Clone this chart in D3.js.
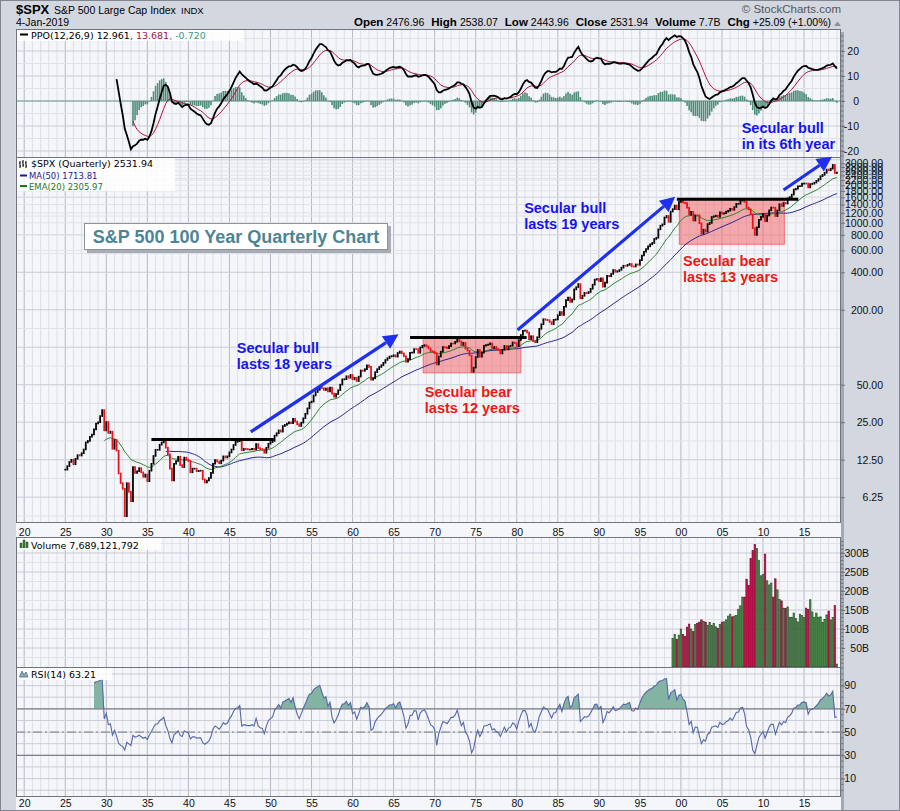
<!DOCTYPE html>
<html>
<head>
<meta charset="utf-8">
<script src="https://cdn.jsdelivr.net/npm/d3@7"></script>
<style>
  body { margin: 0; background: #d3d7e0; }
  svg { display: block; }
</style>
</head>
<body>
<svg></svg>
<script>
const width = 900, height = 811;

// quarterly closes of the S&P 500, one row per year, 1925 Q1 .. 2019 Q1
const firstYear = 1925;
const closes = [
  10.4, 11.1, 12.0, 12.5,      // 1925
  11.5, 12.7, 13.6, 13.5,      // 1926
  14.1, 15.1, 17.2, 17.7,      // 1927
  19.1, 19.9, 21.9, 24.4,      // 1928
  25.0, 28.0, 31.3, 21.5,      // 1929
  25.1, 20.5, 21.0, 15.3,      // 1930
  18.0, 14.8, 9.7, 8.1,        // 1931
  7.3, 4.4, 8.1, 6.9,          // 1932
  5.8, 10.9, 9.8, 10.1,        // 1933
  10.7, 9.9, 9.1, 9.5,         // 1934
  8.4, 10.2, 11.6, 13.4,       // 1935
  15.0, 15.0, 16.5, 17.2,      // 1936
  18.1, 15.6, 13.8, 10.6,      // 1937
  8.5, 11.6, 12.2, 13.2,       // 1938
  11.3, 10.9, 13.0, 12.5,      // 1939
  12.2, 9.9, 10.6, 10.6,       // 1940
  10.1, 10.2, 10.2, 8.7,       // 1941
  8.2, 8.5, 8.9, 9.8,          // 1942
  11.6, 12.4, 12.1, 11.7,      // 1943
  12.3, 13.3, 13.0, 13.3,      // 1944
  14.3, 15.1, 16.4, 17.4,      // 1945
  17.6, 18.4, 14.9, 15.3,      // 1946
  15.2, 15.1, 15.1, 15.3,      // 1947
  15.1, 16.7, 15.5, 15.2,      // 1948
  15.1, 14.2, 15.6, 16.8,      // 1949
  17.3, 17.7, 19.5, 20.4,      // 1950
  21.5, 21.0, 23.3, 23.8,      // 1951
  24.4, 25.0, 24.5, 26.6,      // 1952
  25.3, 24.1, 23.3, 24.8,      // 1953
  26.9, 29.2, 32.3, 36.0,      // 1954
  36.6, 41.0, 43.7, 45.5,      // 1955
  48.5, 46.9, 45.4, 46.7,      // 1956
  44.1, 47.4, 42.4, 40.0,      // 1957
  42.1, 45.2, 50.1, 55.2,      // 1958
  55.4, 58.5, 56.9, 59.9,      // 1959
  55.3, 56.9, 53.5, 58.1,      // 1960
  65.1, 64.6, 66.7, 71.6,      // 1961
  69.6, 54.8, 56.3, 63.1,      // 1962
  66.6, 69.4, 71.7, 75.0,      // 1963
  79.0, 81.7, 84.2, 84.8,      // 1964
  86.2, 84.1, 90.0, 92.4,      // 1965
  89.2, 84.7, 76.6, 80.3,      // 1966
  90.2, 90.6, 96.7, 96.5,      // 1967
  90.2, 99.6, 102.7, 103.9,    // 1968
  101.5, 97.7, 93.1, 92.1,     // 1969
  89.6, 72.7, 84.3, 92.2,      // 1970
  100.3, 99.7, 98.3, 102.1,    // 1971
  107.2, 107.1, 110.6, 118.1,  // 1972
  111.5, 104.3, 108.4, 97.6,   // 1973
  94.0, 86.0, 63.5, 68.6,      // 1974
  83.4, 95.2, 83.9, 90.2,      // 1975
  102.8, 104.3, 105.2, 107.5,  // 1976
  98.4, 100.5, 96.5, 95.1,     // 1977
  89.2, 95.5, 102.5, 96.1,     // 1978
  101.6, 102.9, 109.3, 107.9,  // 1979
  102.1, 114.2, 125.5, 135.8,  // 1980
  136.0, 131.2, 116.2, 122.6,  // 1981
  112.0, 109.6, 120.4, 140.6,  // 1982
  153.0, 168.1, 166.1, 164.9,  // 1983
  159.2, 153.2, 166.1, 167.2,  // 1984
  180.7, 191.9, 182.1, 211.3,  // 1985
  238.9, 250.8, 231.3, 242.2,  // 1986
  291.7, 304.0, 321.8, 247.1,  // 1987
  258.9, 273.5, 271.9, 277.7,  // 1988
  294.9, 318.0, 349.2, 353.4,  // 1989
  339.9, 358.0, 306.1, 330.2,  // 1990
  375.2, 371.2, 387.9, 417.1,  // 1991
  403.7, 408.1, 417.8, 435.7,  // 1992
  451.7, 450.5, 458.9, 466.5,  // 1993
  445.8, 444.3, 462.7, 459.3,  // 1994
  500.7, 544.8, 584.4, 615.9,  // 1995
  645.5, 670.6, 687.3, 740.7,  // 1996
  757.1, 885.1, 947.3, 970.4,  // 1997
  1101.8, 1133.8, 1017.0, 1229.2, // 1998
  1286.4, 1372.7, 1282.7, 1469.3, // 1999
  1498.6, 1454.6, 1436.5, 1320.3, // 2000
  1160.3, 1224.4, 1040.9, 1148.1, // 2001
  1147.4, 989.8, 815.3, 879.8,    // 2002
  848.2, 974.5, 996.0, 1111.9,    // 2003
  1126.2, 1140.8, 1114.6, 1211.9, // 2004
  1180.6, 1191.3, 1228.8, 1248.3, // 2005
  1294.9, 1270.2, 1335.9, 1418.3, // 2006
  1420.9, 1503.4, 1526.8, 1468.4, // 2007
  1322.7, 1280.0, 1166.4, 903.3,  // 2008
  797.9, 919.3, 1057.1, 1115.1,   // 2009
  1169.4, 1030.7, 1141.2, 1257.6, // 2010
  1325.8, 1320.6, 1131.4, 1257.6, // 2011
  1408.5, 1362.2, 1440.7, 1426.2, // 2012
  1569.2, 1606.3, 1681.6, 1848.4, // 2013
  1872.3, 1960.2, 1972.3, 2058.9, // 2014
  2067.9, 2063.1, 1920.0, 2043.9, // 2015
  2059.7, 2098.9, 2168.3, 2238.8, // 2016
  2362.7, 2423.4, 2519.4, 2673.6, // 2017
  2640.9, 2718.4, 2914.0, 2506.9, // 2018
  2531.9                          // 2019
];

// quarterly volume in billions of shares, 1999 Q1 .. 2019 Q1
const volumeStart = 1999;
const volumeB = [
  75, 86, 73, 84, 100, 86, 81, 105, 113, 100,
  94, 112, 115, 118, 124, 120, 118, 110, 117, 109,
  115, 106, 102, 112, 118, 119, 124, 134, 139, 132,
  134, 136, 152, 161, 184, 184, 231, 214, 285, 306,
  322, 312, 281, 240, 243, 297, 227, 216, 221, 184,
  232, 203, 178, 174, 155, 154, 158, 131, 131, 142,
  128, 119, 139, 136, 130, 155, 151, 177, 145, 131,
  142, 131, 132, 117, 125, 137, 147, 124, 130, 162,
  7.7
];

// tick labels
const yearTicks = [1920, 1925, 1930, 1935, 1940, 1945, 1950, 1955, 1960, 1965, 1970,
  1975, 1980, 1985, 1990, 1995, 2000, 2005, 2010, 2015];
const priceTicks = [6.25, 12.5, 25, 50, 200, 400, 600, 800, 1000, 1200, 1400, 1600,
  1800, 2000, 2200, 2400, 2600, 2800, 3000];
const ppoTicks = [-20, -10, 0, 10, 20];
const volumeTicks = [50, 100, 150, 200, 250, 300];
const rsiTicks = [10, 30, 50, 70, 90];

// annotations, in years and index points
const resistance = [
  {from: 1935.5, to: 1950.4, price: 18.2},
  {from: 1967.0, to: 1981.2, price: 119.7},
  {from: 1999.5, to: 2014.3, price: 1541}
];
const bearBoxes = [
  {from: 1968.6, to: 1980.5, high: 119.7, low: 62.3},
  {from: 1999.8, to: 2012.6, high: 1541, low: 671}
];
const trendArrows = [
  {from: [1947.6, 20.9], to: [1965.6, 127]},
  {from: [1980.1, 137.5], to: [1999.3, 1619]},
  {from: [2012.5, 1831], to: [2018.4, 3382]}
];
const notes = [
  {kind: "bull", lines: ["Secular bull", "lasts 18 years"], year: 1945.9, price: 89.8},
  {kind: "bear", lines: ["Secular bear", "lasts 12 years"], year: 1968.8, price: 39.8},
  {kind: "bull", lines: ["Secular bull", "lasts 19 years"], year: 1980.9, price: 1194},
  {kind: "bear", lines: ["Secular bear", "lasts 13 years"], year: 2000.25, price: 448},
  {kind: "bull", lines: ["Secular bull", "in its 6th year"], year: 2007.4, price: 5220}
];

const svg = d3.select("svg")
  .attr("width", width)
  .attr("height", height);

const plotLeft = 16, plotRight = 841;
const panels = {
  ppo: {top: 29, bottom: 157},
  price: {top: 157, bottom: 522},
  vol: {top: 537, bottom: 667},
  rsi: {top: 667, bottom: 796}
};
const arial = "'Liberation Sans', Arial, sans-serif";
const verdana = "'DejaVu Sans', Verdana, sans-serif";

// scales
const x = d3.scaleLinear().domain([1919, 2019.5]).range([plotLeft, plotRight]);
const yPrice = d3.scaleLog().domain([3.95, 3371]).range([panels.price.bottom, panels.price.top]);
const yPpo = d3.scaleLinear().domain([-22.4, 28.8]).range([panels.ppo.bottom, panels.ppo.top]);
const yVol = d3.scaleLinear().domain([0, 342]).range([panels.vol.bottom, panels.vol.top]);
const yRsi = d3.scaleLinear().domain([-5, 106]).range([panels.rsi.bottom, panels.rsi.top]);

// indicators computed from the closes
const dates = closes.map((c, i) => firstYear + i / 4);
function sma(arr, n) {
  return arr.map((v, i) => i < n - 1 ? null : d3.mean(arr.slice(i - n + 1, i + 1)));
}
function ema(arr, n) {
  const k = 2 / (n + 1);
  const start = arr.findIndex(v => v != null);
  let prev = null;
  return arr.map((v, i) => {
    if (v == null || i < start + n - 1) return null;
    prev = prev == null ? d3.mean(arr.slice(i - n + 1, i + 1)) : v * k + prev * (1 - k);
    return prev;
  });
}
function rsiCalc(arr, n) {
  const out = arr.map(() => null);
  let g = 0, l = 0;
  for (let i = 1; i <= n; i++) {
    const ch = arr[i] - arr[i - 1];
    if (ch > 0) g += ch; else l -= ch;
  }
  g /= n; l /= n;
  out[n] = l === 0 ? 100 : 100 - 100 / (1 + g / l);
  for (let i = n + 1; i < arr.length; i++) {
    const ch = arr[i] - arr[i - 1];
    g = (g * (n - 1) + Math.max(ch, 0)) / n;
    l = (l * (n - 1) + Math.max(-ch, 0)) / n;
    out[i] = l === 0 ? 100 : 100 - 100 / (1 + g / l);
  }
  return out;
}
const ma50 = sma(closes, 50);
const ema20 = ema(closes, 20);
const ema12 = ema(closes, 12);
const ema26 = ema(closes, 26);
const ppo = closes.map((c, i) => ema26[i] == null ? null : (ema12[i] - ema26[i]) / ema26[i] * 100);
const signal = ema(ppo, 9);
const hist = ppo.map((v, i) => signal[i] == null ? null : v - signal[i]);
const rsi = rsiCalc(closes, 14);

// background and frame
svg.append("rect")
  .attr("x", 0.5).attr("y", 0.5)
  .attr("width", width - 1).attr("height", height - 1)
  .attr("fill", "#d3d7e0")
  .attr("stroke", "#80858f");

// drop shadow behind the chart area
svg.append("rect")
  .attr("x", plotLeft + 3).attr("y", panels.ppo.top + 3)
  .attr("width", plotRight - plotLeft).attr("height", 810 - panels.ppo.top - 3)
  .attr("fill", "#a3a8b3");

svg.append("rect")
  .attr("x", plotLeft).attr("y", panels.ppo.top)
  .attr("width", plotRight - plotLeft).attr("height", 810 - panels.ppo.top)
  .attr("fill", "#f5f6fa");

const defs = svg.append("defs");
Object.entries(panels).forEach(([key, p]) => {
  defs.append("clipPath").attr("id", "clip-" + key)
    .append("rect")
    .attr("x", plotLeft).attr("y", p.top)
    .attr("width", plotRight - plotLeft).attr("height", p.bottom - p.top);
});

// grid lines for every panel
const years = d3.range(1919, 2020);
function grid(p, yLines) {
  const g = svg.append("g");
  g.selectAll(".vgrid")
    .data(years)
    .enter().append("line")
    .attr("x1", d => x(d)).attr("x2", d => x(d))
    .attr("y1", p.top).attr("y2", p.bottom)
    .attr("stroke", d => d % 5 === 0 ? "#b5b9c3" : "#dcdfe6")
    .attr("stroke-width", 1);
  g.selectAll(".hgrid")
    .data(yLines)
    .enter().append("line")
    .attr("x1", plotLeft).attr("x2", plotRight)
    .attr("y1", d => d.y).attr("y2", d => d.y)
    .attr("stroke", d => d.major ? "#c9ccd5" : "#e0e2e8")
    .attr("stroke-width", 1);
}
grid(panels.ppo, d3.range(-20, 30, 5).map(v => ({y: yPpo(v), major: v % 10 === 0})));
const priceGrid = [];
for (let k = -1; k <= 9; k++) {
  priceGrid.push({y: yPrice(6.25 * Math.pow(2, k)), major: true});
  priceGrid.push({y: yPrice(6.25 * Math.pow(2, k + 0.5)), major: false});
}
priceTicks.filter(v => v > 400).forEach(v => priceGrid.push({y: yPrice(v), major: false}));
grid(panels.price, priceGrid.filter(d => d.y > panels.price.top && d.y < panels.price.bottom));
grid(panels.vol, d3.range(25, 350, 25).map(v => ({y: yVol(v), major: v % 50 === 0})));
grid(panels.rsi, d3.range(0, 110, 10).map(v => ({y: yRsi(v), major: true})));

// panel borders
Object.values(panels).forEach(p => {
  svg.append("rect")
    .attr("x", plotLeft + 0.5).attr("y", p.top + 0.5)
    .attr("width", plotRight - plotLeft - 1).attr("height", p.bottom - p.top)
    .attr("fill", "none")
    .attr("stroke", "#6f747e");
});

// ---------- PPO panel ----------
const ppoG = svg.append("g").attr("clip-path", "url(#clip-ppo)");
ppoG.selectAll(".hist")
  .data(hist.map((v, i) => ({t: dates[i], v})).filter(d => d.v != null))
  .enter().append("rect")
  .attr("x", d => x(d.t) - 0.8)
  .attr("width", 1.6)
  .attr("y", d => Math.min(yPpo(d.v), yPpo(0)))
  .attr("height", d => Math.max(0.6, Math.abs(yPpo(d.v) - yPpo(0))))
  .attr("fill", "#4f8d78");
ppoG.append("line")
  .attr("x1", plotLeft).attr("x2", plotRight)
  .attr("y1", yPpo(0)).attr("y2", yPpo(0))
  .attr("stroke", "#4f8d78").attr("stroke-width", 0.8);

const ppoLine = d3.line()
  .defined(d => d.v != null)
  .x(d => x(d.t))
  .y(d => yPpo(d.v));
ppoG.append("path")
  .attr("d", ppoLine(signal.map((v, i) => ({t: dates[i], v}))))
  .attr("fill", "none").attr("stroke", "#b0123e").attr("stroke-width", 1);
ppoG.append("path")
  .attr("d", ppoLine(ppo.map((v, i) => ({t: dates[i], v}))))
  .attr("fill", "none").attr("stroke", "#000").attr("stroke-width", 1.8);

// ---------- price panel ----------
const priceG = svg.append("g").attr("clip-path", "url(#clip-price)");

// bear market boxes
priceG.selectAll(".bear")
  .data(bearBoxes)
  .enter().append("rect")
  .attr("x", d => x(d.from))
  .attr("y", d => yPrice(d.high))
  .attr("width", d => x(d.to) - x(d.from))
  .attr("height", d => yPrice(d.low) - yPrice(d.high))
  .attr("fill", "rgba(242, 92, 92, 0.5)")
  .attr("stroke", "rgba(240, 90, 90, 0.8)");

const avgLine = d3.line()
  .defined(d => d.v != null)
  .x(d => x(d.t))
  .y(d => yPrice(d.v));
priceG.append("path")
  .attr("d", avgLine(ma50.map((v, i) => ({t: dates[i], v}))))
  .attr("fill", "none").attr("stroke", "#24248f").attr("stroke-width", 1);
priceG.append("path")
  .attr("d", avgLine(ema20.map((v, i) => ({t: dates[i], v}))))
  .attr("fill", "none").attr("stroke", "#2a842a").attr("stroke-width", 1);

// quarterly bars, open at the previous close
const bars = closes.map((c, i) => {
  const o = i > 0 ? closes[i - 1] : c;
  return {t: dates[i], open: o, close: c};
});
priceG.selectAll(".bar")
  .data(bars)
  .enter().append("line")
  .attr("x1", d => x(d.t)).attr("x2", d => x(d.t))
  .attr("y1", d => yPrice(Math.max(d.open, d.close)) - 0.8)
  .attr("y2", d => yPrice(Math.min(d.open, d.close)) + 0.8)
  .attr("stroke", d => d.close >= d.open ? "#000" : "#e8121a")
  .attr("stroke-width", 1.8);

// resistance lines
priceG.selectAll(".resist")
  .data(resistance)
  .enter().append("line")
  .attr("x1", d => x(d.from)).attr("x2", d => x(d.to))
  .attr("y1", d => yPrice(d.price)).attr("y2", d => yPrice(d.price))
  .attr("stroke", "#000").attr("stroke-width", 3);

// trend arrows
const arrowG = svg.append("g");
trendArrows.forEach(a => {
  const x0 = x(a.from[0]), y0 = yPrice(a.from[1]);
  const x1 = x(a.to[0]), y1 = yPrice(a.to[1]);
  const ang = Math.atan2(y1 - y0, x1 - x0);
  const headLen = 15, headW = 7.5;
  const bx = x1 - headLen * Math.cos(ang), by = y1 - headLen * Math.sin(ang);
  arrowG.append("line")
    .attr("x1", x0).attr("y1", y0)
    .attr("x2", bx).attr("y2", by)
    .attr("stroke", "#1f2ff0").attr("stroke-width", 3.2);
  const px = -Math.sin(ang), py = Math.cos(ang);
  arrowG.append("path")
    .attr("d", `M${x1},${y1}L${bx + px * headW},${by + py * headW}L${bx - px * headW},${by - py * headW}Z`)
    .attr("fill", "#1f2ff0");
});

// notes
notes.forEach(n => {
  const t = svg.append("text")
    .attr("x", x(n.year))
    .attr("y", yPrice(n.price))
    .attr("font-family", arial)
    .attr("font-weight", "bold")
    .attr("font-size", "14.5px")
    .attr("fill", n.kind === "bull" ? "#1414f0" : "#f01616");
  n.lines.forEach((line, i) => {
    t.append("tspan")
      .attr("x", x(n.year))
      .attr("dy", i === 0 ? 0 : 16)
      .text(line);
  });
});

// chart title box
svg.append("rect")
  .attr("x", 87).attr("y", 226)
  .attr("width", 304).attr("height", 27)
  .attr("fill", "#a8acb5");
svg.append("rect")
  .attr("x", 84.5).attr("y", 223.5)
  .attr("width", 303).attr("height", 26)
  .attr("fill", "#fff")
  .attr("stroke", "#8e929b");
svg.append("text")
  .attr("x", 236).attr("y", 243)
  .attr("text-anchor", "middle")
  .attr("font-family", arial)
  .attr("font-weight", "bold")
  .attr("font-size", "18px")
  .attr("fill", "#4b8595")
  .text("S&P 500 100 Year Quarterly Chart");

// ---------- volume panel ----------
const volIdx0 = (volumeStart - firstYear) * 4;
const volBars = volumeB.map((v, i) => {
  const j = volIdx0 + i;
  return {t: volumeStart + i / 4, v, up: closes[j] >= closes[j - 1]};
});
svg.append("g").attr("clip-path", "url(#clip-vol)")
  .selectAll(".vol")
  .data(volBars)
  .enter().append("rect")
  .attr("x", d => x(d.t) - 0.75)
  .attr("width", 1.5)
  .attr("y", d => yVol(d.v))
  .attr("height", d => yVol(0) - yVol(d.v))
  .attr("fill", d => d.up ? "#4e8a4e" : "#c4124c")
  .attr("stroke", d => d.up ? "#245224" : "#7a0828")
  .attr("stroke-width", 0.6);

// ---------- RSI panel ----------
const rsiG = svg.append("g").attr("clip-path", "url(#clip-rsi)");
const rsiPts = rsi.map((v, i) => ({t: dates[i], v})).filter(d => d.v != null);
rsiG.append("path")
  .attr("d", d3.area()
    .x(d => x(d.t))
    .y0(yRsi(70))
    .y1(d => yRsi(Math.max(d.v, 70)))(rsiPts))
  .attr("fill", "#82b3a3");
[70, 30].forEach(v => {
  rsiG.append("line")
    .attr("x1", plotLeft).attr("x2", plotRight)
    .attr("y1", yRsi(v)).attr("y2", yRsi(v))
    .attr("stroke", "#7a7f88").attr("stroke-width", 1.2);
});
rsiG.append("line")
  .attr("x1", plotLeft).attr("x2", plotRight)
  .attr("y1", yRsi(50)).attr("y2", yRsi(50))
  .attr("stroke", "#8a8f98").attr("stroke-width", 1.2)
  .attr("stroke-dasharray", "9,3,2,3");
rsiG.append("path")
  .attr("d", d3.line().x(d => x(d.t)).y(d => yRsi(d.v))(rsiPts))
  .attr("fill", "none").attr("stroke", "#5867a6").attr("stroke-width", 1.1);

// ---------- axes ----------
function rightAxis(scale, ticks, fmt, labelRight, minor) {
  const g = svg.append("g")
    .attr("transform", `translate(${plotRight}, 0)`)
    .call(d3.axisRight(scale).tickValues(ticks).tickSize(4).tickFormat(fmt));
  g.select(".domain").remove();
  g.selectAll("line").attr("stroke", "#6f747e");
  g.selectAll("text")
    .attr("text-anchor", "end")
    .attr("x", labelRight)
    .attr("font-family", arial)
    .attr("font-size", "10.5px")
    .attr("fill", "#111");
  g.selectAll(".minor")
    .data(minor)
    .enter().append("line")
    .attr("x1", 0).attr("x2", 2.5)
    .attr("y1", d => scale(d)).attr("y2", d => scale(d))
    .attr("stroke", "#6f747e");
}
rightAxis(yPpo, ppoTicks, d => String(d), 18, d3.range(-22, 28, 2));
rightAxis(yPrice, priceTicks, d3.format(".2f"), 42, []);
rightAxis(yVol, volumeTicks, d => d + "B", 28, d3.range(10, 340, 10));
rightAxis(yRsi, rsiTicks, d => String(d), 15, d3.range(0, 106, 5));

function yearAxis(yPos, labelY) {
  const g = svg.append("g")
    .attr("transform", `translate(0, ${yPos})`)
    .call(d3.axisBottom(x).tickValues(yearTicks).tickSize(0).tickFormat(d => String(d).slice(2)));
  g.select(".domain").remove();
  g.selectAll("text")
    .attr("y", labelY)
    .attr("dy", 0)
    .attr("font-family", arial)
    .attr("font-size", "10.5px")
    .attr("fill", "#111");
}
yearAxis(panels.price.bottom, 13.5);
yearAxis(panels.rsi.bottom, 11);

// ---------- header ----------
svg.append("text")
  .attr("x", 16).attr("y", 14)
  .attr("font-family", arial)
  .attr("font-size", "13px")
  .attr("font-weight", "bold")
  .text("$SPX");
svg.append("text")
  .attr("x", 54).attr("y", 14)
  .attr("font-family", arial)
  .attr("font-size", "10.5px")
  .text("S&P 500 Large Cap Index");
svg.append("text")
  .attr("x", 181).attr("y", 14)
  .attr("font-family", arial)
  .attr("font-size", "9.5px")
  .text("INDX");
svg.append("text")
  .attr("x", 16).attr("y", 26)
  .attr("font-family", arial)
  .attr("font-size", "10.5px")
  .text("4-Jan-2019");
svg.append("text")
  .attr("x", 841).attr("y", 13)
  .attr("text-anchor", "end")
  .attr("font-family", arial)
  .attr("font-size", "11.5px")
  .attr("fill", "#555")
  .text("\u00A9 StockCharts.com");

const quote = [["Open", "2476.96"], ["High", "2538.07"], ["Low", "2443.96"],
  ["Close", "2531.94"], ["Volume", "7.7B"], ["Chg", "+25.09 (+1.00%)"]];
const qt = svg.append("text")
  .attr("x", 831).attr("y", 26)
  .attr("text-anchor", "end")
  .attr("font-family", arial);
quote.forEach(([k, v], i) => {
  qt.append("tspan").attr("font-weight", "bold").attr("font-size", "11.5px")
    .attr("dx", i === 0 ? 0 : 7).text(k);
  qt.append("tspan").attr("font-size", "10.5px").attr("dx", 3).text(v);
});
svg.append("path")
  .attr("d", "M834,26L837.5,21.5L841,26Z")
  .attr("fill", "#8a8f99");

// ---------- panel legends ----------
function legendBox(x0, y0, w, h) {
  svg.append("rect")
    .attr("x", x0).attr("y", y0).attr("width", w).attr("height", h)
    .attr("fill", "#fff").attr("opacity", 0.85);
}
legendBox(17, 30, 226, 11);
svg.append("line")
  .attr("x1", 20).attr("x2", 28).attr("y1", 34.5).attr("y2", 34.5)
  .attr("stroke", "#000").attr("stroke-width", 2);
const ppoLeg = svg.append("text")
  .attr("x", 31).attr("y", 38.5)
  .attr("font-family", verdana)
  .attr("font-size", "9.5px");
ppoLeg.append("tspan").attr("fill", "#000").text("PPO(12,26,9) 12.961");
ppoLeg.append("tspan").attr("fill", "#a0143c").text(", 13.681");
ppoLeg.append("tspan").attr("fill", "#3c9a78").text(", -0.720");

legendBox(17, 158, 158, 33);
// small ohlc glyph
svg.append("path")
  .attr("d", "M20,161V168M19,163H20M20,166H21M23,160V167M22,162H23M23,165H24M26,161V168M25,163H26M26,166H27")
  .attr("stroke", "#000").attr("stroke-width", 1).attr("fill", "none");
svg.append("text")
  .attr("x", 31).attr("y", 167)
  .attr("font-family", verdana)
  .attr("font-size", "9.5px")
  .text("$SPX (Quarterly) 2531.94");
[["MA(50) 1713.81", "#1c1c8c", 179], ["EMA(20) 2305.97", "#1d781d", 189.5]].forEach(([s, c, yy]) => {
  svg.append("line")
    .attr("x1", 20).attr("x2", 27).attr("y1", yy - 3.5).attr("y2", yy - 3.5)
    .attr("stroke", c).attr("stroke-width", 2);
  svg.append("text")
    .attr("x", 29).attr("y", yy)
    .attr("font-family", verdana)
    .attr("font-size", "8.5px")
    .attr("fill", c)
    .text(s);
});

legendBox(17, 538, 144, 12);
svg.append("path")
  .attr("d", "M20,548V543H22V548M23,548V540H25V548M26,548V542H28V548")
  .attr("fill", "#3c7c3c").attr("stroke", "#1f4f1f").attr("stroke-width", 0.5);
svg.append("text")
  .attr("x", 31).attr("y", 549)
  .attr("font-family", verdana)
  .attr("font-size", "9.5px")
  .text("Volume 7,689,121,792");

legendBox(17, 668, 95, 12);
svg.append("path")
  .attr("d", "M19.5,677L22,671L24,675L26,672L28,677Z")
  .attr("fill", "#82b3a3").attr("stroke", "#5867a6").attr("stroke-width", 0.8);
svg.append("text")
  .attr("x", 31).attr("y", 678)
  .attr("font-family", verdana)
  .attr("font-size", "9.5px")
  .text("RSI(14) 63.21");
</script>
</body>
</html>
